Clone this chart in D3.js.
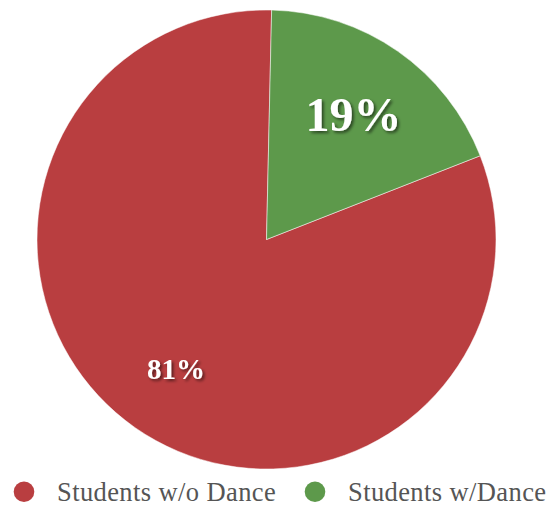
<!DOCTYPE html>
<html><head><meta charset="utf-8">
<script src="https://cdn.jsdelivr.net/npm/d3@7"></script>
<style>html,body{margin:0;padding:0;background:#fff;}svg{display:block;}</style>
</head><body>
<svg id="chart" width="557" height="506"></svg>
<script>
const categories = ["Students w/o Dance", "Students w/Dance"];
const values = [81.3, 18.7];
const colors = ["#b93e40", "#5d994b"];

const svg = d3.select("#chart");
const cx = 266.5, cy = 239.5, r = 229.5;
const startDeg = 68.6;

const defs = svg.append("defs");
const f = defs.append("filter").attr("id","shadow").attr("x","-20%").attr("y","-20%").attr("width","150%").attr("height","150%");
f.append("feDropShadow").attr("dx",2).attr("dy",2).attr("stdDeviation",1.5).attr("flood-color","#000").attr("flood-opacity",0.55);

const data = categories.map((c,i)=>({cat:c, value:values[i], color:colors[i]}));
const pie = d3.pie().value(d=>d.value).sort(null)
  .startAngle(startDeg*Math.PI/180).endAngle(startDeg*Math.PI/180 + 2*Math.PI);
const arcs = pie(data);
const arc = d3.arc().innerRadius(0).outerRadius(r);
const labelRadii = [158, 152];

const g = svg.append("g").attr("transform",`translate(${cx},${cy})`);
g.selectAll("path").data(arcs).enter().append("path")
  .attr("d",arc).attr("fill",d=>d.data.color)
  .attr("stroke","#fff").attr("stroke-width",0.5);

const total = d3.sum(values);
const fmt = d3.format(".0%");
const sizes = [29, 48];
g.selectAll("text.lbl").data(arcs).enter().append("text")
  .attr("class","lbl")
  .attr("transform",(d,i)=>`translate(${d3.arc().innerRadius(labelRadii[i]).outerRadius(labelRadii[i]).centroid(d)})`)
  .attr("text-anchor","middle").attr("dominant-baseline","central")
  .attr("font-family","'Liberation Serif', 'DejaVu Serif', serif")
  .attr("font-weight","bold")
  .attr("font-size",(d,i)=>sizes[i])
  .attr("fill","#fff")
  .attr("filter","url(#shadow)")
  .text(d=>fmt(d.data.value/total));

// legend
const legendX = [24, 315];
const leg = svg.append("g");
data.forEach((d,i)=>{
  leg.append("circle").attr("cx",legendX[i]).attr("cy",491.7).attr("r",10.3).attr("fill",d.color);
  leg.append("text").attr("x",legendX[i]+33).attr("y",501)
    .attr("font-family","'Liberation Serif', serif").attr("font-size",26.5)
    .attr("letter-spacing",0.4)
    .attr("fill","#555").text(d.cat);
});
</script>
</body></html>
